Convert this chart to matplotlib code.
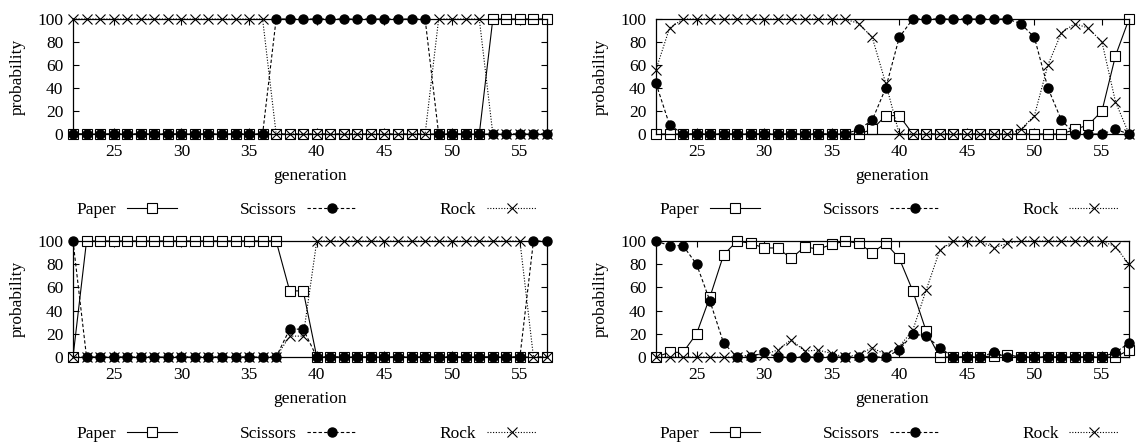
import matplotlib
matplotlib.use("Agg")
import matplotlib.pyplot as plt
from matplotlib.legend import Legend

plt.rcParams["font.family"] = ["Liberation Serif", "DejaVu Serif"]
plt.rcParams["font.size"] = 12.5

gen = list(range(22, 58))

# top-left
paper1 = [0, 0, 0, 0, 0, 0, 0, 0, 0, 0, 0, 0, 0, 0, 0, 0, 0, 0, 0, 0, 0, 0, 0, 0, 0, 0, 0, 0, 0, 0, 0, 100, 100, 100, 100, 100]
scissors1 = [0, 0, 0, 0, 0, 0, 0, 0, 0, 0, 0, 0, 0, 0, 0, 100, 100, 100, 100, 100, 100, 100, 100, 100, 100, 100, 100, 0, 0, 0, 0, 0, 0, 0, 0, 0]
rock1 = [100, 100, 100, 100, 100, 100, 100, 100, 100, 100, 100, 100, 100, 100, 100, 0, 0, 0, 0, 0, 0, 0, 0, 0, 0, 0, 0, 100, 100, 100, 100, 0, 0, 0, 0, 0]

# top-right
paper2 = [0, 0, 0, 0, 0, 0, 0, 0, 0, 0, 0, 0, 0, 0, 0, 0, 4, 16, 16, 0, 0, 0, 0, 0, 0, 0, 0, 0, 0, 0, 0, 4, 8, 20, 68, 100]
scissors2 = [44, 8, 0, 0, 0, 0, 0, 0, 0, 0, 0, 0, 0, 0, 0, 4, 12, 40, 84, 100, 100, 100, 100, 100, 100, 100, 100, 96, 84, 40, 12, 0, 0, 0, 4, 0]
rock2 = [56, 92, 100, 100, 100, 100, 100, 100, 100, 100, 100, 100, 100, 100, 100, 96, 84, 44, 0, 0, 0, 0, 0, 0, 0, 0, 0, 4, 16, 60, 88, 96, 92, 80, 28, 0]

# bottom-left
paper3 = [0, 100, 100, 100, 100, 100, 100, 100, 100, 100, 100, 100, 100, 100, 100, 100, 57, 57, 0, 0, 0, 0, 0, 0, 0, 0, 0, 0, 0, 0, 0, 0, 0, 0, 0, 0]
scissors3 = [100, 0, 0, 0, 0, 0, 0, 0, 0, 0, 0, 0, 0, 0, 0, 0, 24, 24, 0, 0, 0, 0, 0, 0, 0, 0, 0, 0, 0, 0, 0, 0, 0, 0, 100, 100]
rock3 = [0, 0, 0, 0, 0, 0, 0, 0, 0, 0, 0, 0, 0, 0, 0, 0, 18, 18, 100, 100, 100, 100, 100, 100, 100, 100, 100, 100, 100, 100, 100, 100, 100, 100, 0, 0]

# bottom-right
paper4 = [0, 4, 4, 20, 52, 88, 100, 98, 94, 94, 85, 95, 93, 97, 100, 98, 90, 98, 85, 57, 22, 0, 0, 0, 0, 1, 2, 0, 0, 0, 0, 0, 0, 0, 0, 6]
scissors4 = [100, 96, 96, 80, 48, 12, 0, 0, 4, 0, 0, 0, 0, 0, 0, 0, 0, 0, 6, 20, 18, 8, 0, 0, 0, 4, 0, 0, 0, 0, 0, 0, 0, 0, 4, 12]
rock4 = [0, 0, 0, 0, 0, 0, 0, 2, 2, 6, 15, 5, 6, 3, 0, 2, 8, 2, 9, 23, 58, 92, 100, 100, 100, 94, 98, 100, 100, 100, 100, 100, 100, 100, 95, 80]

panels = [
    (paper1, scissors1, rock1),
    (paper2, scissors2, rock2),
    (paper3, scissors3, rock3),
    (paper4, scissors4, rock4),
]

W, H = 1139, 448
fig = plt.figure(figsize=(W / 100, H / 100), dpi=100)

# axes boxes in pixels: left, top, right, bottom
boxes = [
    (73, 19, 547, 134),
    (656, 19, 1129, 134),
    (73, 241, 547, 357),
    (656, 241, 1129, 357),
]

# gnuplot-style key: fixed columns, text before the sample
key_x = [0.008, 0.352, 0.774]

for (paper, scissors, rock), (l, t, r, b) in zip(panels, boxes):
    ax = fig.add_axes([l / W, 1 - b / H, (r - l) / W, (b - t) / H])
    lp, = ax.plot(gen, paper, color="black", lw=0.8, ls="-", marker="s", ms=6.5,
                  mfc="white", mec="black", mew=0.8, clip_on=False, label="Paper")
    lsc, = ax.plot(gen, scissors, color="black", lw=0.8, ls=(0, (3, 2)), marker="o", ms=6.5,
                   mfc="black", mec="black", clip_on=False, label="Scissors")
    lr, = ax.plot(gen, rock, color="black", lw=0.8, ls=(0, (1, 1.5)), marker="x", ms=7,
                  mew=0.8, clip_on=False, label="Rock")
    ax.set_xlim(22, 57)
    ax.set_ylim(0, 100)
    ax.set_xticks(range(25, 57, 5))
    ax.set_yticks(range(0, 101, 20))
    ax.tick_params(direction="in", top=True, right=True, length=4, width=0.8)
    ax.tick_params(axis="x", pad=7)
    ax.tick_params(axis="y", pad=7)
    for s in ax.spines.values():
        s.set_linewidth(0.9)
    ax.set_xlabel("generation", labelpad=6)
    ax.set_ylabel("probability", labelpad=8)

    ky = -(210 - 134) / 115
    for h, kx in zip([lp, lsc, lr], key_x):
        leg = Legend(ax, [h], [h.get_label()], loc="center left", bbox_to_anchor=(kx, ky),
                     frameon=False, markerfirst=False, handlelength=2.9,
                     handletextpad=0.6, borderpad=0, borderaxespad=0)
        ax.add_artist(leg)

fig.savefig("out.png", dpi=100)
